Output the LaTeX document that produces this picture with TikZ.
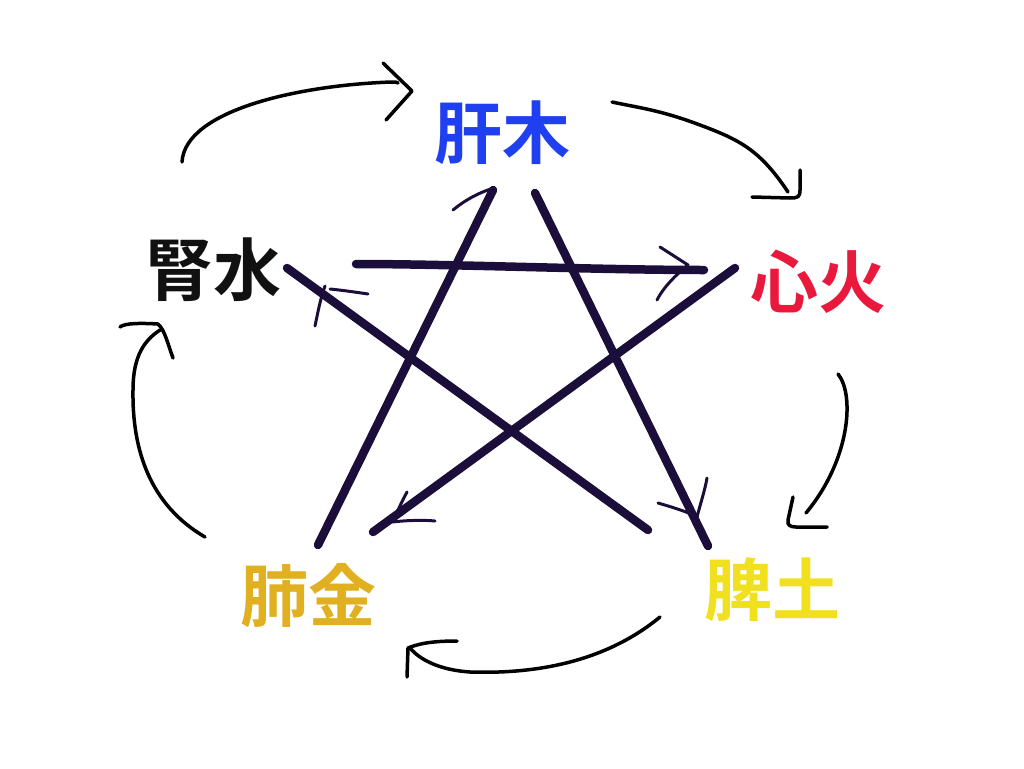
\documentclass[tikz,border=0pt]{standalone}
\usepackage{fontspec}
\newfontfamily\cjk{Noto Sans CJK JP}[BoldFont={* Bold}]
\definecolor{cwood}{HTML}{2040F0}
\definecolor{cfire}{HTML}{E8193C}
\definecolor{cearth}{HTML}{F0E020}
\definecolor{cmetal}{HTML}{E0B020}
\definecolor{cwater}{HTML}{111111}
\definecolor{star}{HTML}{1B0E3A}
\tikzset{
  lbl/.style={font=\cjk\bfseries\fontsize{68}{72}\selectfont, inner sep=0pt},
  starline/.style={draw=star, line width=8.5pt, line cap=round},
  starbarb/.style={draw=star, line width=3pt, line cap=round, line join=round},
  cycle/.style={draw=black, line width=3.5pt, line cap=round, line join=round},
}
\begin{document}
\begin{tikzpicture}[x=1pt,y=-1pt]
\useasboundingbox (0,0) rectangle (1024,768);
% labels
\node[lbl, text=cwood]  (wood)  at (502,133) {肝木};
\node[lbl, text=cfire]  (fire)  at (818,282) {心火};
\node[lbl, text=cearth] (earth) at (772,590) {脾土};
\node[lbl, text=cmetal] (metal) at (308,596) {肺金};
\node[lbl, text=cwater] (water) at (213,270) {腎水};
% star endpoints
\coordinate (h1) at (356,264);
\coordinate (h2) at (704,270);
\coordinate (d1) at (735,268);
\coordinate (d2) at (373,532);
\coordinate (u1) at (318,545);
\coordinate (u2) at (493,190);
\coordinate (v1) at (535,193);
\coordinate (v2) at (708,546);
\coordinate (w1) at (648,530);
\coordinate (w2) at (287,268);
% star lines
\draw[starline] (h1) .. controls (450,264) and (600,270) .. (h2);
\draw[starline] (d1) -- (d2);
\draw[starline] (u1) -- (u2);
\draw[starline] (v1) -- (v2);
\draw[starline] (w1) -- (w2);
% star arrowheads
\draw[starbarb] (660,247) -- (688,265) .. controls (672,278) and (662,290) .. (657,300);
\draw[starbarb] (407,492) .. controls (400,505) and (396,515) .. (392,522) .. controls (410,520) and (425,520) .. (435,521);
\draw[starbarb] (453,210) .. controls (465,200) and (480,192) .. (494,188);
\draw[starbarb] (658,503) .. controls (675,508) and (688,512) .. (697,517) .. controls (700,505) and (705,490) .. (707,478);
\draw[starbarb] (368,294) .. controls (355,292) and (340,290) .. (330,289);
\draw[starbarb] (325,286) .. controls (320,300) and (318,312) .. (315,326);
% outer cycle arrows
\draw[cycle] (182,162) .. controls (185,110) and (300,85) .. (392,82) .. controls (396,82) .. (398,83);
\draw[cycle] (383,63) -- (412,91) -- (386,120);
\draw[cycle] (612,102) .. controls (640,108) and (660,110) .. (700,125) .. controls (740,140) and (760,150) .. (788,192);
\draw[cycle] (800,170) -- (800,190) .. controls (800,197) and (798,198) .. (790,198) -- (752,197);
\draw[cycle] (838,374) .. controls (855,395) and (850,460) .. (806,513);
\draw[cycle] (793,497) -- (788,520) .. controls (787,525) and (790,527) .. (796,527) -- (827,527);
\draw[cycle] (660,617) .. controls (620,650) and (560,675) .. (470,672) .. controls (440,670) and (420,660) .. (410,648);
\draw[cycle] (457,641) .. controls (430,641) and (418,644) .. (408,648) -- (407,677);
\draw[cycle] (205,537) .. controls (150,505) and (132,450) .. (133,390) .. controls (133,355) and (145,340) .. (160,330);
\draw[cycle] (120,327) .. controls (125,323) and (140,323) .. (158,324) .. controls (165,330) and (168,345) .. (173,358);
\end{tikzpicture}
\end{document}
